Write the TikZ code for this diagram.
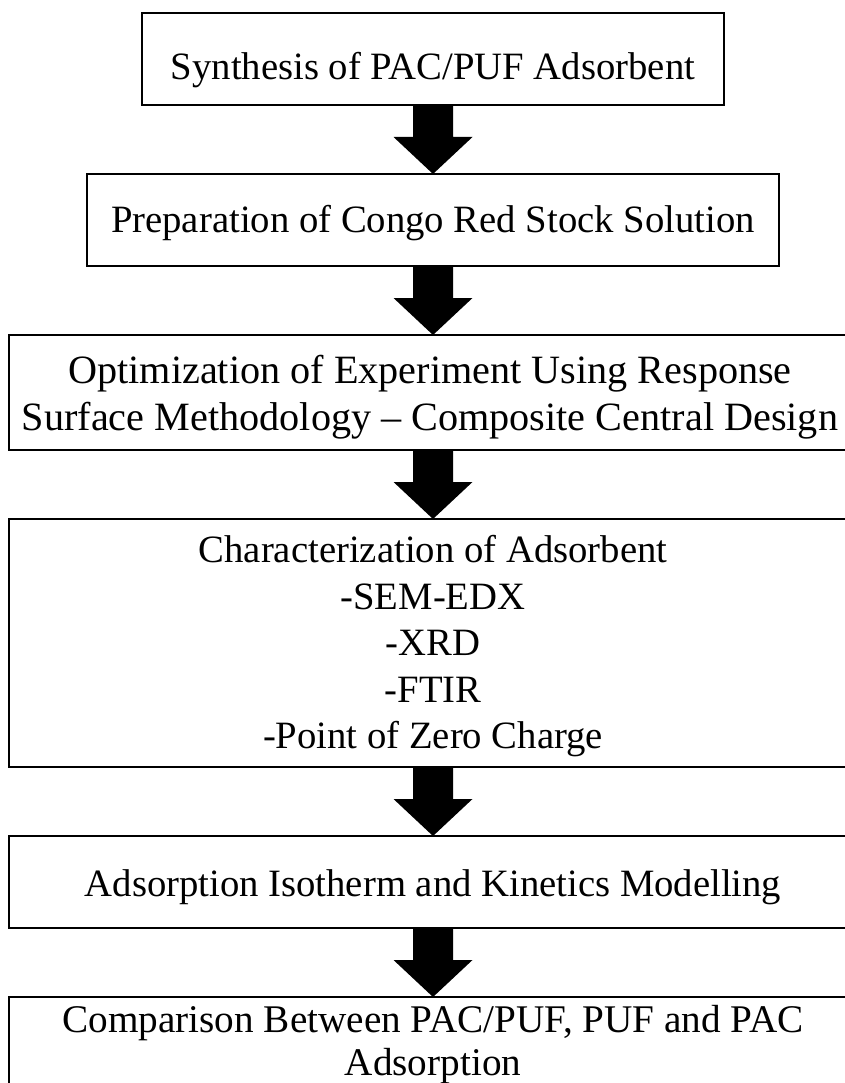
\documentclass[tikz,border=0pt]{standalone}
\usepackage{fontspec}
\setmainfont{Liberation Serif}
\usetikzlibrary{calc}
\tikzset{
  stepbox/.style={draw=black, line width=1.2pt, inner sep=0pt, outer sep=0pt},
  lbl/.style={anchor=base, inner sep=0pt, outer sep=0pt, font=\fontsize{38.7}{46.5}\selectfont},
  biglbl/.style={lbl, font=\fontsize{40.2}{48}\selectfont},
  blockarrow/.style={fill=black}
}
\begin{document}
\begin{tikzpicture}[x=1pt,y=1pt]
\useasboundingbox (0,0) rectangle (845,-1083);
\clip (0,0) rectangle (845,-1083);
% boxes
\node[stepbox, minimum width=582pt, minimum height=92pt] (b1) at (433,-59) {};
\node[stepbox, minimum width=692pt, minimum height=92pt] (b2) at (433,-220) {};
\node[stepbox, minimum width=848pt, minimum height=115pt] (b3) at (433,-392.5) {};
\node[stepbox, minimum width=848pt, minimum height=248pt] (b4) at (433,-643) {};
\node[stepbox, minimum width=848pt, minimum height=92pt] (b5) at (433,-882) {};
\node[stepbox, minimum width=848pt, minimum height=123pt] (b6) at (433,-1058.5) {};
% texts
\node[lbl] (t1) at (433,-80) {Synthesis of PAC/PUF Adsorbent};
\node[lbl] (t2) at (433,-233) {Preparation of Congo Red Stock Solution};
\node[biglbl] (t3a) at (430,-383) {Optimization of Experiment Using Response};
\node[biglbl] (t3b) at (430,-430) {Surface Methodology -- Composite Central Design};
\node[lbl] (t4a) at (433,-562.8) {Characterization of Adsorbent};
\node[lbl] (t4b) at (433,-609.3) {-SEM-EDX};
\node[lbl] (t4c) at (433,-655.8) {-XRD};
\node[lbl] (t4d) at (433,-702.3) {-FTIR};
\node[lbl] (t4e) at (433,-748.8) {-Point of Zero Charge};
\node[lbl] (t5) at (433,-896) {Adsorption Isotherm and Kinetics Modelling};
\node[lbl, font=\fontsize{39.2}{46.5}\selectfont] (t6a) at (433,-1032) {Comparison Between PAC/PUF, PUF and PAC};
\node[lbl, font=\fontsize{39.2}{46.5}\selectfont] (t6b) at (433,-1075) {Adsorption};
% block arrows
\foreach \a/\b in {b1/b2, b2/b3, b3/b4, b4/b5, b5/b6}{
  \fill[blockarrow] ($(\a.south)+(-20,0)$) -- ($(\a.south)+(-20,-32)$)
    -- ($(\a.south)+(-39.5,-32)$) -- (\b.north)
    -- ($(\a.south)+(39.5,-32)$) -- ($(\a.south)+(20,-32)$)
    -- ($(\a.south)+(20,0)$) -- cycle;
}
\end{tikzpicture}
\end{document}
